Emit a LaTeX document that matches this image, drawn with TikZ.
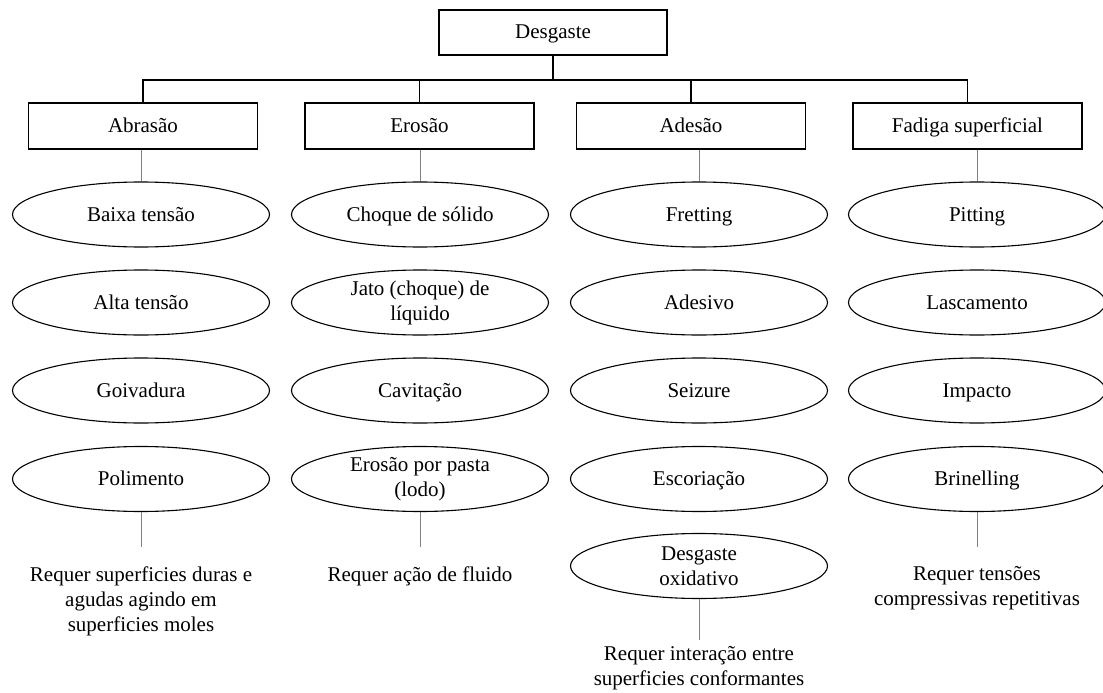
\documentclass[tikz,border=0pt]{standalone}
\usepackage{fontspec}
\setmainfont{Liberation Serif}
\usetikzlibrary{shapes.geometric}
\tikzset{
    catbox/.style={draw, line width=1.2pt, rectangle, minimum width=229pt, minimum height=46pt,
        inner sep=0pt, text height=16pt, text depth=3pt},
    topbox/.style={catbox, minimum width=228pt, minimum height=45pt},
    mecanismo2/.style={draw, line width=1.1pt, ellipse, minimum width=257pt, minimum height=65pt,
        inner sep=0pt, inner ysep=-6pt, align=center},
    mecanismo/.style={mecanismo2, text height=16pt, text depth=3pt},
    nota/.style={anchor=north, inner sep=0pt, align=center},
    haste/.style={draw=gray, line width=0.9pt},
    tronco/.style={line width=1.5pt},
}

\begin{document}
\begin{tikzpicture}[x=1pt, y=-1pt, font=\fontsize{21}{25}\selectfont]
\useasboundingbox (0,0) rectangle (1103,693);

% caixas
\node[topbox] (desg) at (553,32.5) {Desgaste};
\node[catbox] (abr) at (143,126) {Abrasão};
\node[catbox] (ero) at (419.5,126) {Erosão};
\node[catbox] (ade) at (691,126) {Adesão};
\node[catbox] (fad) at (967.5,126) {Fadiga superficial};

% barramento
\coordinate (bus) at (553,80);
\draw[tronco] (desg) -- (bus);
\draw[tronco] (abr.north) |- (bus) -| (fad.north);
\draw[tronco] (ero.north) -- (ero.north |- bus);
\draw[tronco] (ade.north) -- (ade.north |- bus);

% abrasao
\node[mecanismo] (abr1) at (141,214.5) {Baixa tensão};
\node[mecanismo] (abr2) at (141,302.5) {Alta tensão};
\node[mecanismo] (abr3) at (141,390.5) {Goivadura};
\node[mecanismo] (abr4) at (141,479) {Polimento};

% erosao
\node[mecanismo] (ero1) at (420,214.5) {Choque de sólido};
\node[mecanismo2] (ero2) at (420,302.5) {Jato (choque) de\\líquido};
\node[mecanismo] (ero3) at (420,390.5) {Cavitação};
\node[mecanismo2] (ero4) at (420,479) {Erosão por pasta\\(lodo)};

% adesao
\node[mecanismo] (ade1) at (699,214.5) {Fretting};
\node[mecanismo] (ade2) at (699,302.5) {Adesivo};
\node[mecanismo] (ade3) at (699,390.5) {Seizure};
\node[mecanismo] (ade4) at (699,479) {Escoriação};
\node[mecanismo2] (ade5) at (699,566) {Desgaste\\oxidativo};

% fadiga
\node[mecanismo] (fad1) at (977,214.5) {Pitting};
\node[mecanismo] (fad2) at (977,302.5) {Lascamento};
\node[mecanismo] (fad3) at (977,390.5) {Impacto};
\node[mecanismo] (fad4) at (977,479) {Brinelling};

% hastes
\draw[haste] (abr.south -| abr1) -- (abr1);
\draw[haste] (ero.south -| ero1) -- (ero1);
\draw[haste] (ade.south -| ade1) -- (ade1);
\draw[haste] (fad.south -| fad1) -- (fad1);

% requisitos
\coordinate (abrfim) at (141,547);
\coordinate (erofim) at (420,547);
\coordinate (adefim) at (699,640);
\coordinate (fadfim) at (977,547);
\draw[haste] (abr4) -- (abrfim);
\draw[haste] (ero4) -- (erofim);
\draw[haste] (ade5) -- (adefim);
\draw[haste] (fad4) -- (fadfim);
\node[nota] (abrreq) at (141,567) {Requer superficies duras e\\agudas agindo em\\superficies moles};
\node[nota] (eroreq) at (420,567) {Requer ação de fluido};
\node[nota] (adereq) at (699,646) {Requer interação entre\\superficies conformantes};
\node[nota] (fadreq) at (977,566) {Requer tensões\\compressivas repetitivas};
\end{tikzpicture}
\end{document}
